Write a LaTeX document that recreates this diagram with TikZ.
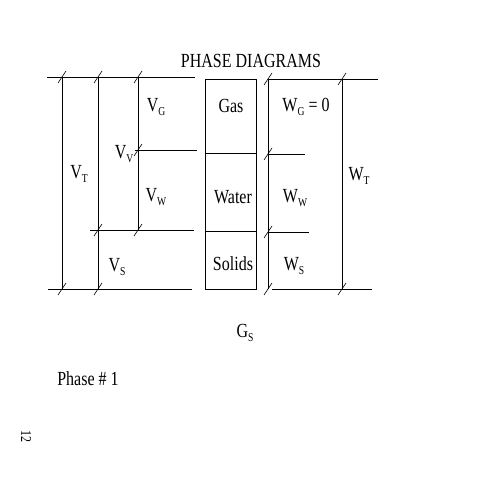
\documentclass[tikz,border=0pt]{standalone}
\usepackage{fontspec}
\usepackage{graphicx}
\setmainfont{Liberation Serif}
\usetikzlibrary{calc}
\newcommand{\sub}[1]{\raisebox{-0.4ex}{\fontsize{12}{12}\selectfont #1}}
\newcommand{\tn}[1]{\scalebox{0.8}[1]{#1}}
\begin{document}
\begin{tikzpicture}[x=1pt,y=-1pt,line width=0.7pt,
  lbl/.style={font=\fontsize{20}{22}\selectfont,inner sep=0pt},
  tk/.style={line width=0.6pt}]
\useasboundingbox (0,0) rectangle (495,495);
\fill[white] (0,0) rectangle (495,495);
% title
\node[lbl] (title) at (251,61) {\tn{PHASE DIAGRAMS}};
% left horizontal lines
\draw (47,77) -- (195,77);
\draw (135,150) -- (197,150);
\draw (90,230) -- (194,230);
\draw (48,289) -- (192,289);
% left vertical lines
\draw (62,77) -- (62,289);
\draw (98,77) -- (98,289);
\draw (138,77) -- (138,230);
% ticks left
\foreach \p in {{62,77},{62,289},{98,77},{98,230},{98,289},{138,77},{138,150},{138,230}}
  \draw[tk] ($(\p)+(-4,6)$) -- ($(\p)+(4,-6)$);
% box
\draw (205,79) rectangle (256,289);
\draw (205,153) -- (256,153);
\draw (205,231) -- (256,231);
% right lines
\draw (268,79) -- (268,289);
\draw (268,79) -- (378,79);
\draw (268,154) -- (305,154);
\draw (268,232) -- (309,232);
\draw (272,289) -- (372,289);
\draw (342,79) -- (342,289);
\foreach \p in {{268,79},{268,154},{268,232},{268,289},{342,79},{342,289}}
  \draw[tk] ($(\p)+(-4,6)$) -- ($(\p)+(4,-6)$);
% labels
\node[lbl] (vt) at (79,174) {\tn{V\sub{T}}};
\node[lbl] (vg) at (156,107) {\tn{V\sub{G}}};
\node[lbl] (vv) at (124,154) {\tn{V\sub{V}}};
\node[lbl] (vw) at (156,197) {\tn{V\sub{W}}};
\node[lbl] (vs) at (117,267) {\tn{V\sub{S}}};
\node[lbl] (gas) at (231,106) {\tn{Gas}};
\node[lbl] (water) at (233,197) {\tn{Water}};
\node[lbl] (solids) at (233,264) {\tn{Solids}};
\node[lbl] (wg) at (306,107) {\tn{W\sub{G} = 0}};
\node[lbl] (ww) at (295,198) {\tn{W\sub{W}}};
\node[lbl] (ws) at (294,266) {\tn{W\sub{S}}};
\node[lbl] (wt) at (359,176) {\tn{W\sub{T}}};
\node[lbl] (gs) at (245,333) {\tn{G\sub{S}}};
\node[lbl] (phase) at (88,379) {\tn{Phase \# 1}};
\node[font=\fontsize{15}{15}\selectfont,inner sep=0pt,rotate=-90] (pg) at (26,436) {\tn{12}};
\end{tikzpicture}
\end{document}
